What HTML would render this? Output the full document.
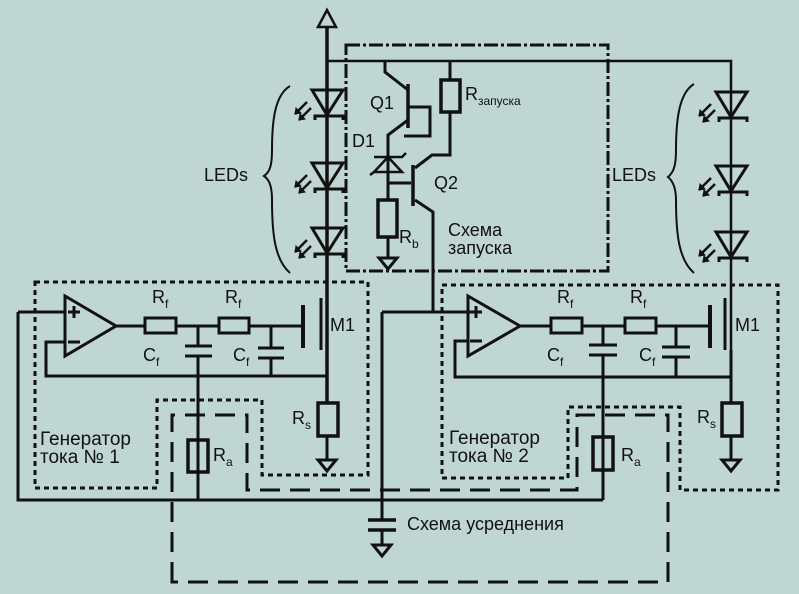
<!DOCTYPE html>
<html><head><meta charset="utf-8"><style>
html,body{margin:0;padding:0;background:#bfd6d3;}
svg{display:block;}
text{font-family:"Liberation Sans","DejaVu Sans",sans-serif;fill:#111;}
</style></head><body>
<svg width="799" height="594" viewBox="0 0 799 594" xmlns="http://www.w3.org/2000/svg">
<rect width="799" height="594" fill="#bfd6d3"/>
<defs>
<g id="led">
  <path d="M-15,-14 L16,-14 L0,11 Z" fill="none" stroke="#111" stroke-width="3"/>
  <path d="M-12,16 L-12,12 L16,12 L16,16" fill="none" stroke="#111" stroke-width="3"/>
  <path d="M-20,-2 L-32,10 M-16,4 L-28,16" stroke="#111" stroke-width="2.5"/>
  <path d="M-32,10 l1,-6 l5,5 Z M-28,16 l1,-6 l5,5 Z" fill="#111" stroke="#111" stroke-width="1"/>
</g>
<g id="gnd"><path d="M-9,0 L9,0 L0,11 Z" fill="none" stroke="#111" stroke-width="3"/></g>
</defs>
<g stroke="#111" fill="none" stroke-linecap="butt">
<path d="M327,26 L327,403" stroke-width="3.5"/>
<path d="M318,27 L327,10 L336,27 Z" stroke-width="2.5"/>
<path d="M327,61 L731,61 L731,375" stroke-width="2.5"/>
<path d="M290,86 C275,95 272,120 272,150 C272,165 270,172 264,176 C270,180 272,188 272,200 C272,235 275,260 290,273" stroke-width="2"/>
<path d="M694,84 C679,93 676,120 676,150 C676,165 674,172 668,177 C674,182 676,190 676,200 C676,235 679,260 694,273" stroke-width="2"/>
</g>
<use href="#led" x="327" y="104"/>
<use href="#led" x="327" y="177"/>
<use href="#led" x="327" y="242"/>
<use href="#led" x="731" y="106"/>
<use href="#led" x="731" y="180"/>
<use href="#led" x="731" y="246"/>
<g stroke="#111" fill="none">
<rect x="346" y="45" width="262" height="226" stroke-width="3" stroke-dasharray="14,3,3,3"/>
<path d="M385,61 L385,72 L408,90" stroke-width="3"/>
<path d="M408,84 L408,128" stroke-width="3.5"/>
<path d="M408,107 L430,107 L430,136 L404,136" stroke-width="3"/>
<path d="M408,120 L388,135 L388,155" stroke-width="3"/>
<path d="M388,152 L388,200" stroke-width="3"/>
<path d="M374,172 L402,172 L388,157 Z" stroke-width="2.5"/>
<path d="M370,175 L374,172 M374,157 L402,157 L406,153" stroke-width="2.5"/>
<path d="M388,183 L411,183" stroke-width="3"/>
<rect x="378" y="200" width="19" height="37" stroke-width="3.5"/>
<path d="M388,237 L388,258" stroke-width="3"/>
<path d="M450,61 L450,80" stroke-width="3"/>
<rect x="441" y="80" width="19" height="32" stroke-width="3.5"/>
<path d="M450,112 L450,155 L432,155 L415,168" stroke-width="3"/>
<path d="M413,165 L413,206" stroke-width="3.5"/>
<path d="M415,200 L433,212 L433,312" stroke-width="3"/>
<path d="M382,312 L470,312" stroke-width="3"/>
<path d="M382,312 L382,520" stroke-width="3"/>
<path d="M18,312 L65,312 M18,312 L18,500 L603,500" stroke-width="3"/>
<path d="M368,520 L396,520 M368,530 L396,530" stroke-width="3.5"/>
<path d="M382,530 L382,545" stroke-width="3"/>
<path d="M65,296 L116,326 L65,356 Z" stroke-width="3"/>
<path d="M68,312 L80,312 M74,306 L74,318 M68,342 L80,342" stroke-width="3"/>
<path d="M65,342 L46,342 L46,376 L327,376" stroke-width="3"/>
<path d="M116,326 L145,326 M177,326 L218,326 M250,326 L303,326" stroke-width="3"/>
<rect x="145" y="318" width="31" height="15" stroke-width="3"/>
<rect x="219" y="318" width="30" height="15" stroke-width="3"/>
<path d="M303,305 L303,348" stroke-width="4"/>
<path d="M321,298 L321,350" stroke-width="3"/>
<path d="M198,326 L198,346 M185,346 L212,346 M185,356 L212,356 M198,356 L198,500" stroke-width="3"/>
<path d="M271,326 L271,348 M258,348 L284,348 M258,358 L284,358 M271,358 L271,376" stroke-width="3"/>
<rect x="318" y="403" width="20" height="33" stroke-width="3.5"/>
<path d="M327,436 L327,460" stroke-width="3"/>
<rect x="188" y="440" width="20" height="32" stroke-width="3.5"/>
<path d="M468,296 L520,326 L468,356 Z" stroke-width="3"/>
<path d="M470,312 L482,312 M476,306 L476,318 M470,341 L482,341" stroke-width="3"/>
<path d="M470,312 L433,312" stroke-width="3"/>
<path d="M468,341 L455,341 L455,377 L731,377" stroke-width="3"/>
<path d="M520,326 L550,326 M582,326 L624,326 M656,326 L710,326" stroke-width="3"/>
<rect x="551" y="318" width="31" height="15" stroke-width="3"/>
<rect x="625" y="318" width="31" height="15" stroke-width="3"/>
<path d="M710,305 L710,348" stroke-width="4"/>
<path d="M725,298 L725,350 M731,350 L731,403" stroke-width="3"/>
<path d="M603,326 L603,345 M589,345 L617,345 M589,355 L617,355 M603,355 L603,500" stroke-width="3"/>
<path d="M676,326 L676,347 M662,347 L690,347 M662,357 L690,357 M676,357 L676,377" stroke-width="3"/>
<rect x="722" y="403" width="20" height="33" stroke-width="3.5"/>
<path d="M731,436 L731,460" stroke-width="3"/>
<rect x="593" y="437" width="20" height="33" stroke-width="3.5"/>
<path d="M35,282 L368,282 L368,475 L262,475 L262,400 L157,400 L157,488 L35,488 Z" stroke-width="3" stroke-dasharray="5,4"/>
<path d="M442,285 L778,285 L778,490 L680,490 L680,407 L568,407 L568,478 L442,478 Z" stroke-width="3" stroke-dasharray="5,4"/>
<path d="M172,582 L172,415 L247,415 L247,490 L577,490 L577,415 L668,415 L668,582 Z" stroke-width="3" stroke-dasharray="20,10"/>
</g>
<use href="#gnd" x="388" y="258"/>
<use href="#gnd" x="327" y="460"/>
<use href="#gnd" x="731" y="460"/>
<use href="#gnd" x="382" y="545"/>
<g font-size="18">
<text x="204" y="181">LEDs</text>
<text x="612" y="181">LEDs</text>
<text x="370" y="109">Q1</text>
<text x="352" y="147">D1</text>
<text x="434" y="189">Q2</text>
<text x="465" y="100">R<tspan font-size="12" dy="5">запуска</tspan></text>
<text x="399" y="243">R<tspan font-size="12" dy="5">b</tspan></text>
<text x="448" y="236">Схема</text>
<text x="448" y="254">запуска</text>
<text x="152" y="303">R<tspan font-size="12" dy="5">f</tspan></text>
<text x="225" y="303">R<tspan font-size="12" dy="5">f</tspan></text>
<text x="143" y="361">C<tspan font-size="12" dy="5">f</tspan></text>
<text x="233" y="361">C<tspan font-size="12" dy="5">f</tspan></text>
<text x="330" y="331">M1</text>
<text x="292" y="424">R<tspan font-size="12" dy="5">s</tspan></text>
<text x="213" y="461">R<tspan font-size="12" dy="5">a</tspan></text>
<text x="40" y="445" font-size="19">Генератор</text>
<text x="40" y="463" font-size="19">тока № 1</text>
<text x="557" y="303">R<tspan font-size="12" dy="5">f</tspan></text>
<text x="630" y="303">R<tspan font-size="12" dy="5">f</tspan></text>
<text x="547" y="361">C<tspan font-size="12" dy="5">f</tspan></text>
<text x="639" y="361">C<tspan font-size="12" dy="5">f</tspan></text>
<text x="735" y="331">M1</text>
<text x="697" y="423">R<tspan font-size="12" dy="5">s</tspan></text>
<text x="621" y="461">R<tspan font-size="12" dy="5">a</tspan></text>
<text x="449" y="444" font-size="19">Генератор</text>
<text x="449" y="462" font-size="19">тока № 2</text>
<text x="407" y="530">Схема усреднения</text>
</g>
</svg>
</body></html>
